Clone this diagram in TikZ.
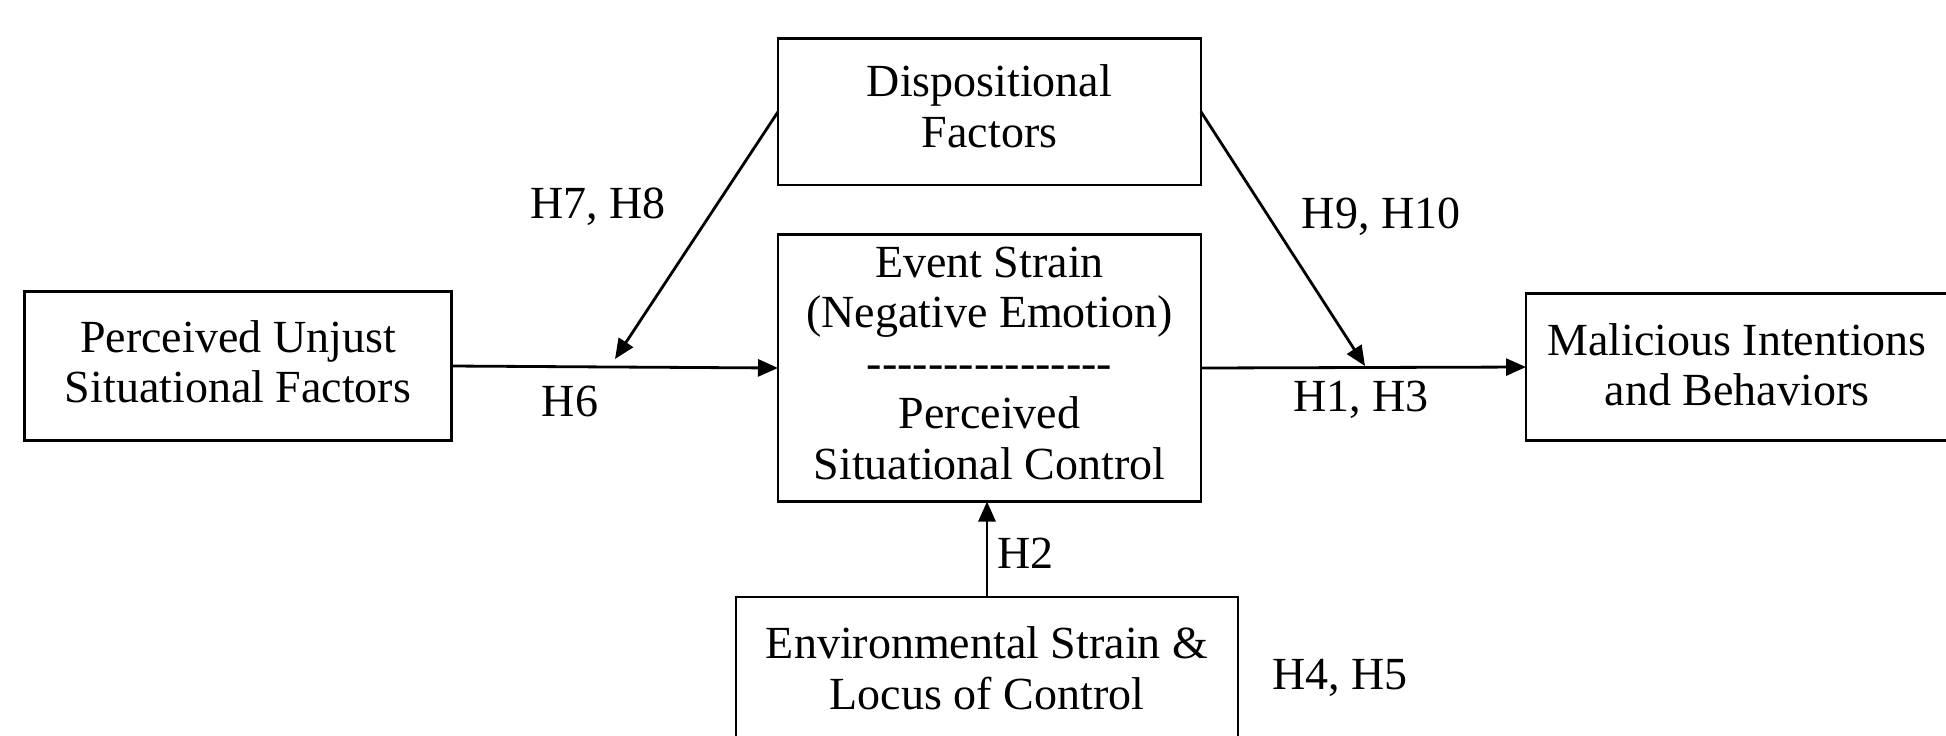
\documentclass[tikz,border=0pt]{standalone}
\usepackage{fontspec}
\setmainfont{Liberation Serif}
\usetikzlibrary{arrows.meta}
\newcommand\dropdepth[1]{\rule[-#1]{0pt}{0pt}}
\tikzset{
  box/.style={draw, line width=1.3pt, rectangle, inner sep=0pt, outer sep=0pt, align=center,
    font=\fontsize{23}{25.3}\selectfont},
  lbl/.style={inner sep=0pt, font=\fontsize{23}{25.3}\selectfont},
  conn/.style={line width=1.4pt, -{Triangle[length=10pt,width=8.5pt]}}
}
\begin{document}
\begin{tikzpicture}[x=0.5pt,y=-0.5pt]
\useasboundingbox (0,0) rectangle (1946,735);
\node[box, minimum width=211.5pt, minimum height=73.25pt] (disp) at (989.5,111.8) {Dispositional\\Factors\dropdepth{6pt}};
\node[box, minimum width=211.5pt, minimum height=133.5pt] (event) at (989.5,368)
  {Event Strain\\(Negative Emotion)\\-{}-{}-{}-{}-{}-{}-{}-{}-{}-{}-{}-{}-{}-{}-{}-\\Perceived\\Situational Control\dropdepth{5pt}};
\node[box, minimum width=213.5pt, minimum height=74.5pt] (unjust) at (238,366) {Perceived Unjust\\Situational Factors\dropdepth{4.4pt}};
\node[box, minimum width=211pt, minimum height=73.5pt] (mal) at (1737,367) {Malicious Intentions\\and Behaviors\dropdepth{2.5pt}};
\node[box, minimum width=251pt, minimum height=71pt] (env) at (987,668) {Environmental Strain \&\\Locus of Control};

\coordinate (m1) at (615,359);
\coordinate (m2) at (1365,366);

\draw[conn] (unjust.east) -- (event.west);
\draw[conn] (event.east) -- (mal.west);
\draw[conn] (disp.west) -- (m1);
\draw[conn] (disp.east) -- (m2);
\draw[conn] (env.north) -- (env.north |- event.south);

\node[lbl] (h6) at (570,401) {H6};
\node[lbl] (h78) at (598,207) {H7, H8};
\node[lbl] (h910) at (1381,217) {H9, H10};
\node[lbl] (h13) at (1361,400) {H1, H3};
\node[lbl, anchor=west] (h2) at (997,553) {H2};
\node[lbl] (h45) at (1340,678) {H4, H5};
\end{tikzpicture}
\end{document}
